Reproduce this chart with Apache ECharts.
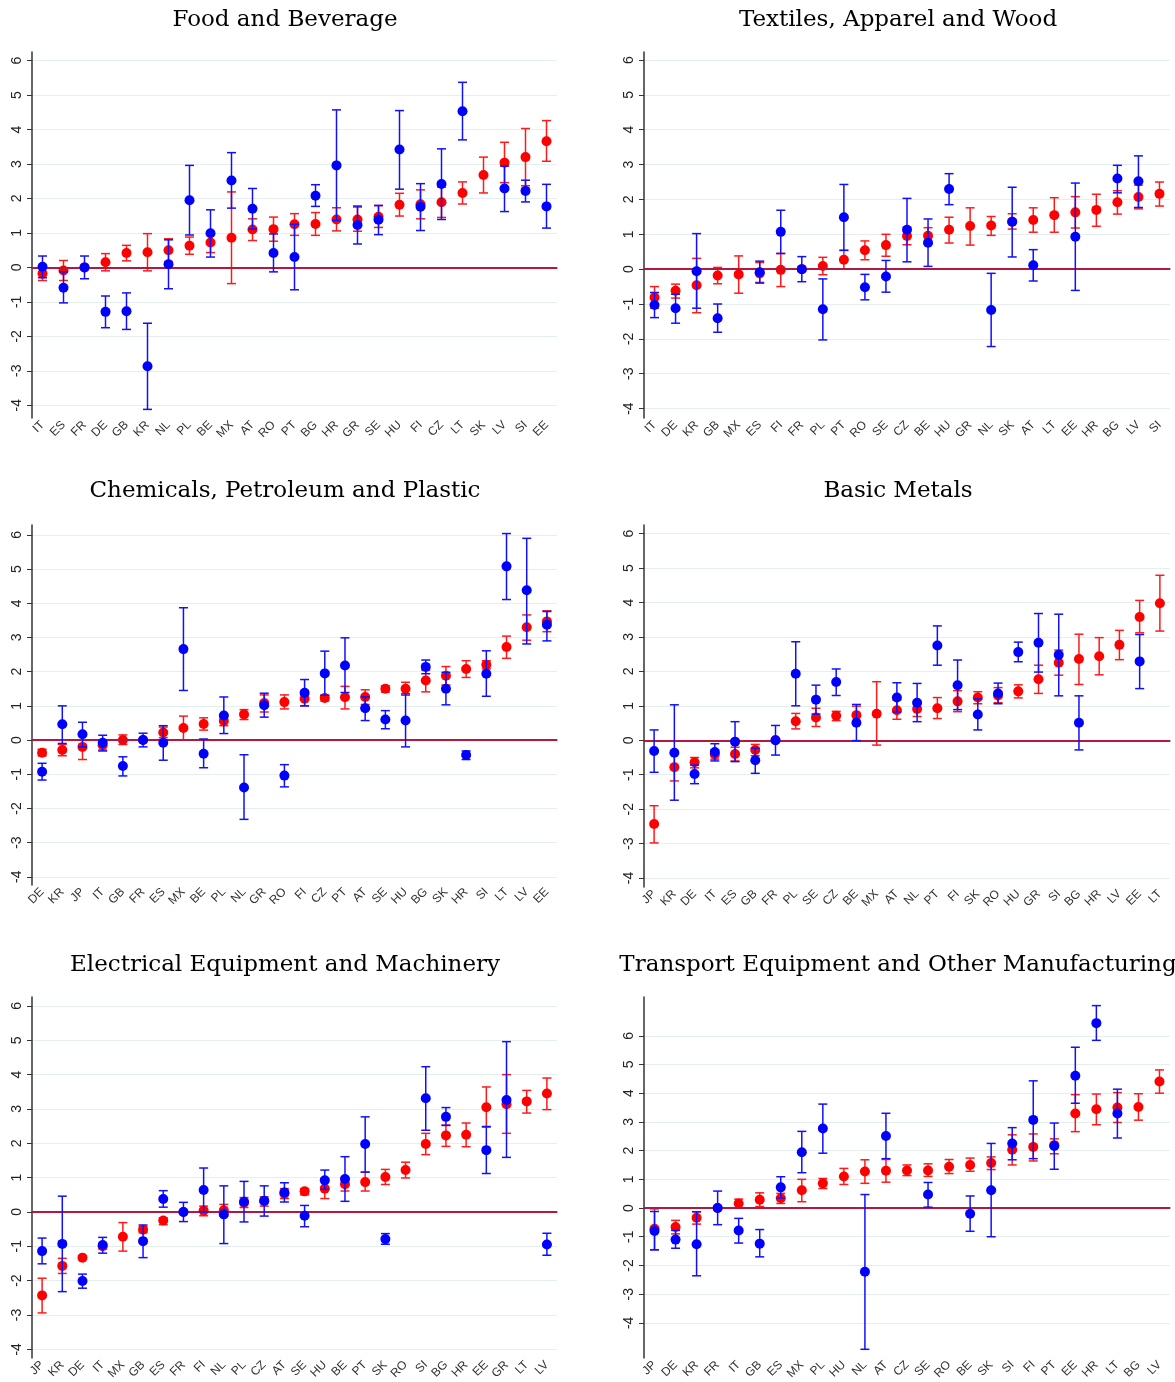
<!DOCTYPE html>
<html>
<head>
<meta charset="utf-8">
<script src="https://cdn.jsdelivr.net/npm/echarts@6/dist/echarts.min.js"></script>
<style>
html, body { margin: 0; padding: 0; background: #fff; }
#main { width: 1175px; height: 1382px; }
</style>
</head>
<body>
<div id="main"></div>
<script>
// each point: [estimate, lower bound, upper bound]; null = no estimate
var yTicks = [-4, -3, -2, -1, 0, 1, 2, 3, 4, 5, 6];

var foodCats = ['IT','ES','FR','DE','GB','KR','NL','PL','BE','MX','AT','RO','PT','BG','HR','GR','SE','HU','FI','CZ','LT','SK','LV','SI','EE'];
var foodRed = [[-0.18,-0.38,0.02],[-0.09,-0.38,0.2],[0,0,0],[0.15,-0.1,0.4],[0.42,0.19,0.64],[0.44,-0.1,0.98],[0.5,0.17,0.83],[0.63,0.38,0.88],[0.72,0.43,1.01],[0.86,-0.47,2.19],[1.1,0.78,1.41],[1.11,0.76,1.46],[1.25,0.93,1.56],[1.26,0.93,1.59],[1.39,1.06,1.73],[1.39,1.05,1.75],[1.47,1.16,1.79],[1.82,1.49,2.15],[1.83,1.41,2.25],[1.89,1.45,2.33],[2.16,1.84,2.48],[2.68,2.16,3.2],[3.04,2.46,3.63],[3.2,2.37,4.03],[3.66,3.08,4.26]];
var foodBlue = [[0.02,-0.3,0.33],[-0.59,-1.03,-0.13],[0,-0.33,0.33],[-1.29,-1.75,-0.83],[-1.27,-1.8,-0.74],[-2.87,-4.12,-1.62],[0.09,-0.62,0.8],[1.95,0.94,2.96],[0.99,0.3,1.67],[2.52,1.72,3.33],[1.7,1.11,2.29],[0.42,-0.13,0.97],[0.3,-0.65,1.25],[2.08,1.77,2.4],[2.96,1.36,4.57],[1.23,0.68,1.78],[1.38,0.95,1.8],[3.42,2.27,4.55],[1.76,1.07,2.43],[2.42,1.39,3.44],[4.53,3.7,5.37],null,[2.29,1.62,2.94],[2.22,1.9,2.53],[1.77,1.14,2.41]];

var textCats = ['IT','DE','KR','GB','MX','ES','FI','FR','PL','PT','RO','SE','CZ','BE','HU','GR','NL','SK','AT','LT','EE','HR','BG','LV','SI'];
var textRed = [[-0.81,-1.12,-0.5],[-0.62,-0.83,-0.43],[-0.46,-1.25,0.31],[-0.18,-0.42,0.05],[-0.15,-0.69,0.38],[-0.12,-0.38,0.19],[-0.02,-0.5,0.45],[0,0,0],[0.09,-0.16,0.34],[0.27,0,0.54],[0.54,0.27,0.81],[0.69,0.37,1.0],[0.95,0.7,1.2],[0.96,0.73,1.19],[1.13,0.75,1.49],[1.24,0.69,1.76],[1.25,0.97,1.51],[1.36,1.15,1.59],[1.41,1.06,1.76],[1.55,1.06,2.05],[1.63,1.18,2.08],[1.7,1.23,2.15],[1.92,1.58,2.25],[2.07,1.73,2.41],[2.16,1.81,2.5]];
var textBlue = [[-1.03,-1.39,-0.67],[-1.12,-1.55,-0.72],[-0.06,-1.12,1.02],[-1.41,-1.81,-1.0],null,[-0.09,-0.4,0.23],[1.07,0.45,1.69],[0,-0.36,0.36],[-1.15,-2.03,-0.28],[1.49,0.54,2.43],[-0.52,-0.88,-0.15],[-0.21,-0.66,0.25],[1.13,0.21,2.03],[0.76,0.08,1.44],[2.3,1.85,2.74],null,[-1.17,-2.22,-0.12],[1.36,0.35,2.35],[0.11,-0.34,0.56],null,[0.93,-0.61,2.47],null,[2.6,2.19,2.98],[2.52,1.77,3.25],null];

var chemCats = ['DE','KR','JP','IT','GB','FR','ES','MX','BE','PL','NL','GR','RO','FI','CZ','PT','AT','SE','HU','BG','SK','HR','SI','LT','LV','EE'];
var chemRed = [[-0.37,-0.46,-0.27],[-0.29,-0.46,-0.13],[-0.2,-0.57,0.15],[-0.15,-0.29,-0.05],[0,-0.13,0.15],[0,0,0],[0.22,0.07,0.38],[0.35,0,0.7],[0.47,0.29,0.65],[0.56,0.42,0.73],[0.75,0.6,0.89],[1.08,0.82,1.32],[1.11,0.91,1.32],[1.21,1.0,1.32],[1.23,1.14,1.31],[1.25,0.91,1.57],[1.26,1.04,1.47],[1.5,1.4,1.59],[1.5,1.31,1.69],[1.74,1.41,2.04],[1.88,1.61,2.15],[2.08,1.83,2.32],[2.2,2.08,2.32],[2.72,2.39,3.04],[3.3,2.92,3.66],[3.47,3.17,3.78]];
var chemBlue = [[-0.93,-1.17,-0.68],[0.46,-0.1,1.0],[0.17,-0.2,0.52],[-0.08,-0.32,0.14],[-0.76,-1.05,-0.49],[0,-0.2,0.2],[-0.08,-0.59,0.42],[2.66,1.45,3.87],[-0.4,-0.81,0.03],[0.72,0.19,1.26],[-1.39,-2.32,-0.43],[1.02,0.67,1.37],[-1.04,-1.37,-0.72],[1.38,1.0,1.77],[1.95,1.31,2.6],[2.18,1.39,2.99],[0.93,0.57,1.26],[0.6,0.33,0.86],[0.57,-0.2,1.35],[2.14,1.94,2.34],[1.5,1.03,1.98],[-0.44,-0.57,-0.32],[1.94,1.28,2.61],[5.08,4.11,6.04],[4.38,2.81,5.9],[3.37,2.9,3.76]];

var metalCats = ['JP','KR','DE','IT','ES','GB','FR','PL','SE','CZ','BE','MX','AT','NL','PT','FI','SK','RO','HU','GR','SI','BG','HR','LV','EE','LT'];
var metalRed = [[-2.43,-2.98,-1.9],[-0.78,-1.18,-0.38],[-0.64,-0.8,-0.5],[-0.41,-0.55,-0.28],[-0.4,-0.6,-0.2],[-0.28,-0.45,-0.12],[0,0,0],[0.55,0.33,0.78],[0.66,0.4,0.93],[0.71,0.57,0.84],[0.73,0.48,0.99],[0.77,-0.14,1.7],[0.87,0.61,1.17],[0.91,0.69,1.12],[0.93,0.63,1.24],[1.13,0.83,1.44],[1.24,1.06,1.41],[1.3,1.09,1.53],[1.42,1.23,1.61],[1.77,1.36,2.18],[2.25,1.89,2.62],[2.36,1.62,3.08],[2.44,1.9,2.98],[2.77,2.34,3.19],[3.58,3.12,4.06],[3.98,3.17,4.79]];
var metalBlue = [[-0.31,-0.93,0.3],[-0.36,-1.74,1.03],[-0.98,-1.26,-0.72],[-0.34,-0.6,-0.1],[-0.04,-0.62,0.54],[-0.58,-0.96,-0.23],[0,-0.43,0.43],[1.93,1.0,2.86],[1.18,0.76,1.6],[1.69,1.3,2.07],[0.51,-0.01,1.04],null,[1.24,0.82,1.67],[1.09,0.54,1.65],[2.75,2.18,3.32],[1.6,0.89,2.33],[0.75,0.3,1.2],[1.36,1.06,1.66],[2.56,2.28,2.85],[2.83,1.98,3.68],[2.48,1.29,3.66],[0.51,-0.28,1.29],null,null,[2.29,1.5,3.07],null];

var elecCats = ['JP','KR','DE','IT','MX','GB','ES','FR','FI','NL','PL','CZ','AT','SE','HU','BE','PT','SK','RO','SI','BG','HR','EE','GR','LT','LV'];
var elecRed = [[-2.43,-2.94,-1.93],[-1.57,-1.79,-1.35],[-1.33,-1.37,-1.28],[-1.0,-1.08,-0.92],[-0.72,-1.14,-0.31],[-0.52,-0.6,-0.43],[-0.25,-0.37,-0.17],[0,0,0],[0.04,-0.11,0.17],[0.05,-0.12,0.22],[0.27,0.13,0.42],[0.31,0.17,0.44],[0.53,0.39,0.68],[0.6,0.5,0.68],[0.68,0.39,0.98],[0.81,0.61,1.0],[0.87,0.61,1.16],[1.02,0.8,1.24],[1.22,0.99,1.45],[1.98,1.67,2.29],[2.23,1.91,2.53],[2.25,1.9,2.59],[3.05,2.47,3.64],[3.14,2.29,4.0],[3.22,2.88,3.54],[3.45,2.98,3.9]];
var elecBlue = [[-1.14,-1.51,-0.76],[-0.93,-2.32,0.46],[-2.01,-2.22,-1.81],[-0.96,-1.2,-0.74],null,[-0.85,-1.33,-0.38],[0.38,0.14,0.62],[0,-0.28,0.28],[0.64,0.0,1.28],[-0.07,-0.92,0.76],[0.3,-0.29,0.89],[0.33,-0.12,0.76],[0.57,0.29,0.85],[-0.11,-0.43,0.19],[0.92,0.66,1.22],[0.96,0.31,1.61],[1.98,1.16,2.77],[-0.79,-0.94,-0.63],null,[3.31,2.38,4.23],[2.77,2.52,3.04],null,[1.8,1.12,2.49],[3.26,1.59,4.96],null,[-0.95,-1.26,-0.62]];

var transCats = ['JP','DE','KR','FR','IT','GB','ES','MX','PL','HU','NL','AT','CZ','SE','RO','BE','SK','SI','FI','PT','EE','HR','LT','BG','LV'];
var transRed = [[-0.72,-1.45,-0.03],[-0.66,-0.9,-0.43],[-0.34,-0.56,-0.13],[0,0,0],[0.16,0,0.31],[0.29,0.05,0.53],[0.34,0.16,0.51],[0.62,0.22,1.0],[0.86,0.68,1.03],[1.1,0.82,1.38],[1.27,0.86,1.68],[1.3,0.9,1.69],[1.31,1.13,1.5],[1.31,1.1,1.54],[1.44,1.2,1.69],[1.5,1.28,1.74],[1.57,1.34,1.78],[2.03,1.5,2.55],[2.13,1.64,2.58],[2.19,1.89,2.41],[3.29,2.66,3.95],[3.44,2.9,3.97],[3.5,2.98,4.02],[3.52,3.06,3.98],[4.41,4.0,4.81]];
var transBlue = [[-0.8,-1.46,-0.12],[-1.1,-1.4,-0.78],[-1.26,-2.36,-0.13],[0,-0.58,0.59],[-0.78,-1.22,-0.36],[-1.24,-1.7,-0.75],[0.72,0.35,1.09],[1.94,1.23,2.67],[2.77,1.91,3.62],null,[-2.22,-4.92,0.47],[2.51,1.72,3.3],null,[0.47,0.03,0.89],null,[-0.2,-0.81,0.42],[0.62,-1.0,2.25],[2.25,1.68,2.8],[3.07,1.72,4.43],[2.16,1.35,2.96],[4.61,3.65,5.6],[6.44,5.84,7.05],[3.29,2.44,4.14],null,null];

var panels = [
  { title: 'Food and Beverage', cats: foodCats, red: foodRed, blue: foodBlue, left: 32, top: 52, width: 525, height: 366, min: -4.37, max: 6.25, tx: 280, ty: 4 },
  { title: 'Textiles, Apparel and Wood', cats: textCats, red: textRed, blue: textBlue, left: 644, top: 52, width: 526, height: 366, min: -4.27, max: 6.23, tx: 893, ty: 4 },
  { title: 'Chemicals, Petroleum and Plastic', cats: chemCats, red: chemRed, blue: chemBlue, left: 32, top: 525, width: 525, height: 360, min: -4.24, max: 6.29, tx: 280, ty: 475 },
  { title: 'Basic Metals', cats: metalCats, red: metalRed, blue: metalBlue, left: 644, top: 525, width: 526, height: 362, min: -4.26, max: 6.25, tx: 893, ty: 475 },
  { title: 'Electrical Equipment and Machinery', cats: elecCats, red: elecRed, blue: elecBlue, left: 32, top: 997, width: 525, height: 362, min: -4.25, max: 6.26, tx: 280, ty: 949 },
  { title: 'Transport Equipment and Other Manufacturing', cats: transCats, red: transRed, blue: transBlue, left: 644, top: 997, width: 526, height: 362, min: -5.22, max: 7.35, tx: 893, ty: 949 }
];

function barItem(color) {
  return function (params, api) {
    var x = api.value(0);
    var a = api.coord([x, api.value(1)]);
    var b = api.coord([x, api.value(2)]);
    var w = 4.5;
    var st = { stroke: color, lineWidth: 1.5 };
    return {
      type: 'group',
      children: [
        { type: 'line', shape: { x1: a[0], y1: a[1], x2: b[0], y2: b[1] }, style: st },
        { type: 'line', shape: { x1: a[0] - w, y1: a[1], x2: a[0] + w, y2: a[1] }, style: st },
        { type: 'line', shape: { x1: b[0] - w, y1: b[1], x2: b[0] + w, y2: b[1] }, style: st }
      ]
    };
  };
}

function pts(arr) {
  var out = [];
  arr.forEach(function (d, i) { if (d) out.push([i, d[0]]); });
  return out;
}
function bars(arr) {
  var out = [];
  arr.forEach(function (d, i) { if (d && d[2] > d[1]) out.push([i, d[1], d[2]]); });
  return out;
}

var titles = [], grids = [], xAxes = [], yAxes = [], series = [];

panels.forEach(function (p, k) {
  titles.push({
    text: p.title, left: p.tx, top: p.ty, textAlign: 'center',
    textStyle: { fontFamily: 'DejaVu Serif', fontWeight: 'normal', fontSize: 23, color: '#000' }
  });
  grids.push({ left: p.left, top: p.top, width: p.width, height: p.height });
  xAxes.push({
    type: 'category', gridIndex: k, data: p.cats,
    axisLine: { lineStyle: { color: '#555', width: 1.5 } },
    axisTick: { alignWithLabel: true, length: 5, lineStyle: { color: '#555' } },
    axisLabel: { interval: 0, rotate: 45, margin: 5, fontSize: 12, color: '#333', fontFamily: 'Liberation Sans' },
    splitLine: { show: false }
  });
  yAxes.push({
    type: 'value', gridIndex: k, min: p.min, max: p.max,
    axisLine: { show: true, lineStyle: { color: '#333', width: 1.5 } },
    axisTick: { show: true, length: 5, customValues: yTicks, lineStyle: { color: '#333' } },
    axisLabel: { customValues: yTicks, rotate: 90, margin: 8, fontSize: 14, color: '#222', fontFamily: 'Liberation Sans' },
    splitLine: { show: true, lineStyle: { color: '#e6eff0', width: 1.2 } }
  });
  series.push({
    type: 'custom', xAxisIndex: k, yAxisIndex: k, silent: true,
    renderItem: barItem('#ff1a1a'), encode: { x: 0, y: [1, 2] }, data: bars(p.red), z: 3
  });
  series.push({
    type: 'scatter', xAxisIndex: k, yAxisIndex: k, symbolSize: 10, silent: true,
    itemStyle: { color: '#ff0000', opacity: 1 }, data: pts(p.red), z: 4,
    markLine: {
      silent: true, symbol: 'none', label: { show: false },
      lineStyle: { color: '#b5173f', width: 2, type: 'solid' },
      data: [{ yAxis: 0 }]
    }
  });
  series.push({
    type: 'custom', xAxisIndex: k, yAxisIndex: k, silent: true,
    renderItem: barItem('#1010ff'), encode: { x: 0, y: [1, 2] }, data: bars(p.blue), z: 5
  });
  series.push({
    type: 'scatter', xAxisIndex: k, yAxisIndex: k, symbolSize: 10, silent: true,
    itemStyle: { color: '#0000ff', opacity: 1 }, data: pts(p.blue), z: 6
  });
});

var chart = echarts.init(document.getElementById('main'));
chart.setOption({
  backgroundColor: '#ffffff',
  animation: false,
  title: titles,
  grid: grids,
  xAxis: xAxes,
  yAxis: yAxes,
  series: series
});
</script>
</body>
</html>
